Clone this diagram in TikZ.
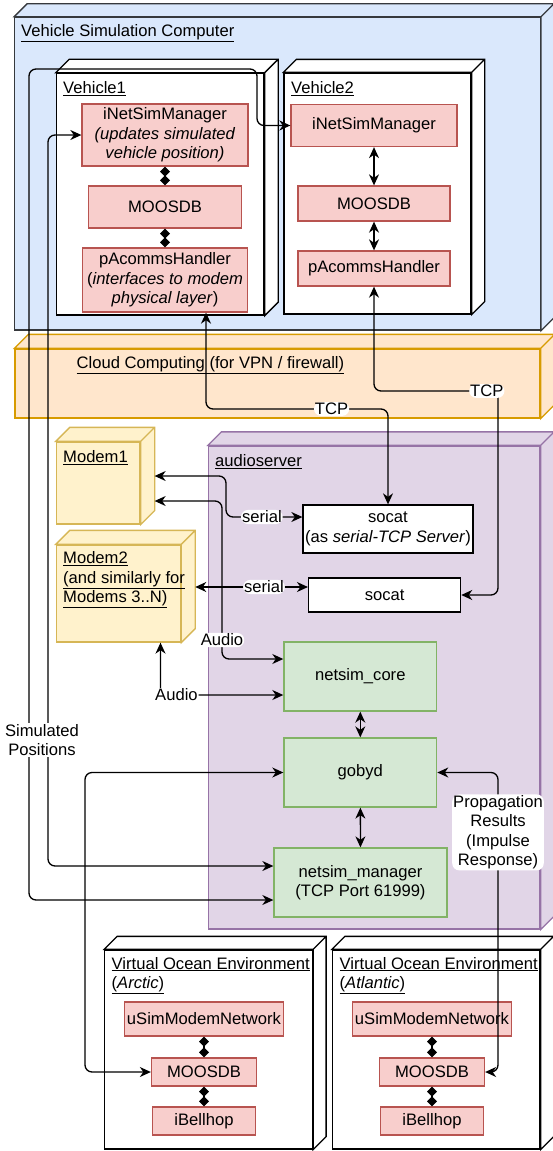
\documentclass[tikz,border=0pt]{standalone}
\usepackage{fontspec}
\setmainfont{Liberation Sans}
\usetikzlibrary{arrows.meta, positioning}

\definecolor{blueF}{HTML}{DAE8FC}
\definecolor{darkE}{HTML}{36393D}
\definecolor{orangeF}{HTML}{FFE6CC}
\definecolor{orangeE}{HTML}{D79B00}
\definecolor{yellowF}{HTML}{FFF2CC}
\definecolor{yellowE}{HTML}{D6B656}
\definecolor{purpleF}{HTML}{E1D5E7}
\definecolor{purpleE}{HTML}{9673A6}
\definecolor{redF}{HTML}{F8CECC}
\definecolor{redE}{HTML}{B85450}
\definecolor{greenF}{HTML}{D5E8D4}
\definecolor{greenE}{HTML}{82B366}

\tikzset{
  box/.style={rectangle, line width=1.3pt, inner sep=0pt, align=center},
  app/.style={box, fill=redF, draw=redE},
  srv/.style={box, fill=greenF, draw=greenE},
  sock/.style={box, fill=white, draw=black},
  cubeblue/.style={line width=1.3pt, fill=blueF, draw=darkE},
  cubeorange/.style={line width=1.3pt, fill=orangeF, draw=orangeE},
  cubeyellow/.style={line width=1.3pt, fill=yellowF, draw=yellowE},
  cubepurple/.style={line width=1.3pt, fill=purpleF, draw=purpleE},
  cubewhite/.style={line width=1.3pt, fill=white, draw=black},
  title/.style={anchor=west, inner sep=0pt, align=left},
  lbl/.style={fill=white, inner sep=1pt, align=center},
  link/.style={line width=1.3pt, rounded corners=7pt,
    {Stealth[length=11pt,width=10pt,inset=3.5pt]}-{Stealth[length=11pt,width=10pt,inset=3.5pt]}},
  dlink/.style={line width=1.3pt,
    {Diamond[length=10pt,width=10pt]}-{Diamond[length=10pt,width=10pt]}},
}

% top and right faces of a 3d box node
\newcommand{\cubeside}[3][13]{%
  \draw[#3] (#2.north west) -- ++(#1,-#1) -- ([shift={(#1,-#1)}]#2.north east)
    -- ([shift={(#1,-#1)}]#2.south east) -- (#2.south east) -- (#2.north east) -- cycle
    (#2.north east) -- ++(#1,-#1);}
\newcommand{\uln}[1]{\underline{#1}}

\begin{document}
\begin{tikzpicture}[x=1pt, y=-1pt, font=\fontsize{16.6}{19.5}\selectfont]
    \useasboundingbox (0,0) rectangle (553,1151);

    % containers
    \node[box, cubeblue, minimum width=525.6pt, minimum height=312.7pt] (vsc) at (277.6,173.7) {};
    \cubeside{vsc}{cubeblue}
    \node[title] (vsct) at (21,33) {\uln{Vehicle Simulation Computer}};

    \node[box, cubewhite, minimum width=207.6pt, minimum height=241.7pt] (v1) at (160.2,194.2) {};
    \cubeside[13.5]{v1}{cubewhite}
    \node[title] (v1t) at (63,89) {\uln{Vehicle1}};
    \node[box, cubewhite, minimum width=187pt, minimum height=241pt] (v2) at (377.5,193.5) {};
    \cubeside{v2}{cubewhite}
    \node[title] (v2t) at (291,89) {\uln{Vehicle2}};

    \node[box, cubeorange, minimum width=525pt, minimum height=69pt] (cloud) at (277.5,383.5) {};
    \cubeside[14]{cloud}{cubeorange}
    \node[title] (cloudt) at (76.5,365) {\uln{Cloud Computing (for VPN / firewall)}};

    \node[box, cubepurple, minimum width=331.5pt, minimum height=483pt] (aud) at (374.25,687.5) {};
    \cubeside[13.5]{aud}{cubepurple}
    \node[title] (audt) at (215,462) {\uln{audioserver}};

    \node[box, cubeyellow, minimum width=83.6pt, minimum height=82pt] (m1) at (98.2,483) {};
    \cubeside[14]{m1}{cubeyellow}
    \node[title] (m1t) at (63,458) {\uln{Modem1}};
    \node[box, cubeyellow, minimum width=124.2pt, minimum height=97pt] (m2) at (118.5,593.5) {};
    \cubeside[14]{m2}{cubeyellow}
    \node[title] (m2t) at (63,580) {\uln{Modem2}\\\uln{(and similarly for}\\\uln{Modems 3..N)}};

    \node[box, cubewhite, minimum width=207.7pt, minimum height=199pt] (oc1) at (208.6,1049.5) {};
    \cubeside{oc1}{cubewhite}
    \node[title] (oc1t) at (111.5,975.5) {\uln{Virtual Ocean Environment}\\\uln{(\textit{Arctic})}};
    \node[box, cubewhite, minimum width=207.4pt, minimum height=199pt] (oc2) at (436.3,1049.5) {};
    \cubeside{oc2}{cubewhite}
    \node[title] (oc2t) at (339.5,975.5) {\uln{Virtual Ocean Environment}\\\uln{(\textit{Atlantic})}};

    % vehicles
    \node[app, minimum width=166pt, minimum height=62pt] (a1) at (165,135)
        {iNetSimManager\\\textit{(updates simulated}\\\textit{vehicle position)}};
    \node[app, minimum width=152.5pt, minimum height=42pt] (db1) at (165,207) {MOOSDB};
    \node[app, minimum width=164.5pt, minimum height=64pt] (pa1) at (165,280)
        {pAcommsHandler\\(\textit{interfaces to modem}\\\textit{physical layer})};
    \node[app, minimum width=166pt, minimum height=42pt] (a2) at (374,125.5) {iNetSimManager};
    \node[app, minimum width=152pt, minimum height=35pt] (db2) at (374,203.5) {MOOSDB};
    \node[app, minimum width=152pt, minimum height=35pt] (pa2) at (374,268.5) {pAcommsHandler};

    % audioserver
    \node[sock, minimum width=170pt, minimum height=48pt] (s1) at (388,529)
        {socat\\(as \textit{serial-TCP Server})};
    \node[sock, minimum width=152pt, minimum height=34pt] (s2) at (384.6,595) {socat};
    \node[srv, minimum width=152.7pt, minimum height=69pt] (core) at (360.3,676.5) {netsim\_core};
    \node[srv, minimum width=152.7pt, minimum height=69pt] (goby) at (360.3,772.5) {gobyd};
    \node[srv, minimum width=173pt, minimum height=69pt] (mgr) at (360.5,882.5)
        {netsim\_manager\\(TCP Port 61999)};

    % oceans
    \node[app, minimum width=159pt, minimum height=34pt] (usim1) at (204,1019) {uSimModemNetwork};
    \node[app, minimum width=105pt, minimum height=28pt] (db3) at (204,1072) {MOOSDB};
    \node[app, minimum width=102.4pt, minimum height=28pt] (bell1) at (204,1121) {iBellhop};
    \node[app, minimum width=159pt, minimum height=34pt] (usim2) at (432,1019) {uSimModemNetwork};
    \node[app, minimum width=105pt, minimum height=28pt] (db4) at (432,1072) {MOOSDB};
    \node[app, minimum width=102.4pt, minimum height=28pt] (bell2) at (432,1121) {iBellhop};

    \draw[dlink] (a1) -- (db1);
    \draw[dlink] (db1) -- (pa1);
    \draw[link] (a2) -- (db2);
    \draw[link] (db2) -- (pa2);
    \draw[link] (core) -- (goby);
    \draw[link] (goby) -- (mgr);
    \draw[dlink] (usim1) -- (db3);
    \draw[dlink] (db3) -- (bell1);
    \draw[dlink] (usim2) -- (db4);
    \draw[dlink] (db4) -- (bell2);

    % network links
    \draw[link] ([xshift=41pt]pa1.south) -- (206,409) -- node[lbl, pos=0.69] {TCP} (388,409) -- (s1.north);
    \draw[link] (pa2.south) -- (374,391) -- node[lbl, pos=0.91] {TCP} (498,391) -- (498,595) -- (s2.east);
    \draw[link] ([shift={(14,-7)}]m1.east) -- (226,476) -- (226,517)
        -- node[lbl, pos=0.47] {serial} ([shift={(0,-12)}]s1.west);
    \draw[link] ([shift={(14,18)}]m1.east) -- (222,501)
        -- node[lbl, pos=0.88] {Audio} (222,659) -- ([shift={(0,-17.5)}]core.west);
    \draw[link] ([shift={(14,-6.5)}]m2.east) -- node[lbl, pos=0.61] {serial} ([shift={(0,-8)}]s2.west);
    \draw[link] ([xshift=42pt]m2.south) -- (160.5,695)
        -- node[lbl, pos=0.13] {Audio} ([shift={(0,18.5)}]core.west);
    \draw[link] ([shift={(0,-16.5)}]mgr.west) -- (48,866) -- (48,135) -- (a1.west);
    \draw[link] ([shift={(0,17.5)}]mgr.west) -- (29,900) -- (29,69) -- (257,69) -- (257,125.5) -- (a2.west);
    \draw[link] (goby.west) -- (85,772.5) -- (85,1072) -- (db3.west);
    \draw[link] (goby.east) -- (498,772.5)
        -- node[lbl, pos=0.2] {Propagation\\Results\\(Impulse\\Response)} (498,1072) -- (db4.east);
    \node[lbl] (simpos) at (42,740) {Simulated\\Positions};
\end{tikzpicture}
\end{document}
